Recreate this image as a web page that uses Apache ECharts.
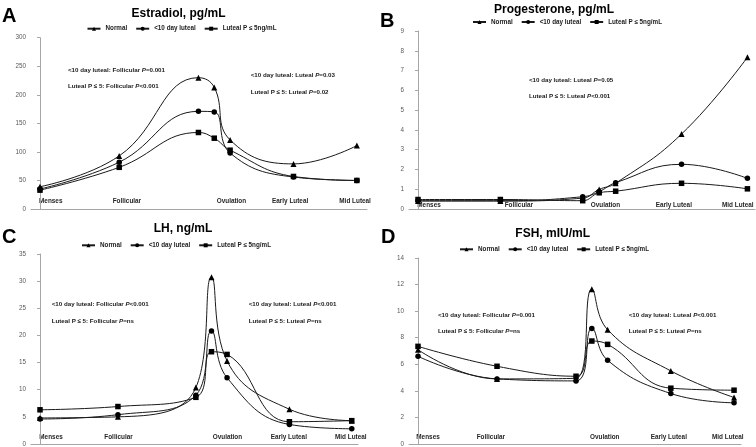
<!DOCTYPE html>
<html>
<head>
<meta charset="utf-8">
<script src="https://cdn.jsdelivr.net/npm/echarts@6/dist/echarts.min.js"></script>
<style>html,body{margin:0;padding:0;background:#fff}#c{width:756px;height:447px}</style>
</head>
<body>
<div id="c"></div>
<script>
// ---- data ----
const seriesNames = ['Normal', '<10 day luteal', 'Luteal P \u2264 5ng/mL'];
const stageLabels = ['Menses', 'Follicular', 'Ovulation', 'Early Luteal', 'Mid Luteal'];
// relative position in cycle of each measurement
const cyclePos = [0, 25, 50, 55, 60, 80, 100];

const e2Normal = [39, 93, 230, 213, 121, 79, 111];
const e2Short  = [35, 82, 171, 170, 98, 56, 50];
const e2LowP   = [33, 73, 134, 124, 103, 57, 50];

const pNormal = [0.40, 0.40, 0.55, 0.99, 1.30, 3.79, 7.67];
const pShort  = [0.42, 0.42, 0.62, 0.88, 1.33, 2.26, 1.55];
const pLowP   = [0.48, 0.48, 0.42, 0.82, 0.90, 1.30, 1.02];

const lhNormal = [4.8, 5.0, 10.4, 30.7, 15.3, 6.4, 4.3];
const lhShort  = [4.6, 5.4, 9.0, 20.8, 12.2, 3.6, 2.8];
const lhLowP   = [6.3, 6.9, 8.6, 17.0, 16.5, 4.1, 4.3];

const fshNormal = [7.1, 4.9, 4.95, 11.65, 8.6, 5.5, 3.5];
const fshShort  = [6.6, 4.9, 4.75, 8.7, 6.3, 3.8, 3.1];
const fshLowP   = [7.35, 5.85, 5.1, 7.75, 7.5, 4.2, 4.05];

// ---- layout ----
const FONT = "'Liberation Sans', Arial, sans-serif";
const panels = [
  { letter: 'A', title: 'Estradiol, pg/mL', data: [e2Normal, e2Short, e2LowP], yMax: 300, yInt: 50,
    grid: { left: 31, top: 37.7, width: 336, height: 171.3 }, xMin: -2.84, xMax: 103.2,
    letterPos: [2, 6], titlePos: [178.5, 14], legendCenter: [178.5, 30.7],
    stageY: 201.7, stageX: [39, 112.7, 216.7, 272, 339.3],
    notes: [
      { x: 68, y: 70, lines: [['<10 day luteal: Follicular ', '=0.001'], ['Luteal P \u2264 5: Follicular ', '<0.001']] },
      { x: 250.7, y: 75.3, lines: [['<10 day luteal: Luteal ', '=0.03'], ['Luteal P \u2264 5: Luteal ', '=0.02']] }
    ] },
  { letter: 'B', title: 'Progesterone, pg/mL', data: [pNormal, pShort, pLowP], yMax: 9, yInt: 1,
    grid: { left: 409, top: 31, width: 346, height: 178 }, xMin: -2.73, xMax: 102.3,
    letterPos: [380, 11], titlePos: [554, 10], legendCenter: [564, 24],
    stageY: 205, stageX: [417.3, 504.7, 590.7, 655.7, 722],
    notes: [
      { x: 529, y: 80, lines: [['<10 day luteal: Luteal ', '=0.05'], ['Luteal P \u2264 5: Luteal ', '<0.001']] }
    ] },
  { letter: 'C', title: 'LH, ng/mL', data: [lhNormal, lhShort, lhLowP], yMax: 35, yInt: 5,
    grid: { left: 31, top: 254, width: 327, height: 190 }, xMin: -2.89, xMax: 102,
    letterPos: [2, 227], titlePos: [183, 229], legendCenter: [173, 247.3],
    stageY: 437.3, stageX: [39.3, 104.3, 212.7, 270.7, 335],
    notes: [
      { x: 51.7, y: 304.7, lines: [['<10 day luteal: Follicular ', '<0.001'], ['Luteal P \u2264 5: Follicular ', '=ns']] },
      { x: 248.7, y: 304.7, lines: [['<10 day luteal: Luteal ', '<0.001'], ['Luteal P \u2264 5: Luteal ', '=ns']] }
    ] },
  { letter: 'D', title: 'FSH, mIU/mL', data: [fshNormal, fshShort, fshLowP], yMax: 14, yInt: 2,
    grid: { left: 409, top: 258, width: 332, height: 186 }, xMin: -2.85, xMax: 102.2,
    letterPos: [381, 227], titlePos: [552.7, 234], legendCenter: [551, 251.3],
    stageY: 437.3, stageX: [416.3, 476.7, 590, 650.7, 712],
    notes: [
      { x: 438, y: 315, lines: [['<10 day luteal: Follicular ', '=0.001'], ['Luteal P \u2264 5: Follicular ', '=ns']] },
      { x: 628.7, y: 315, lines: [['<10 day luteal: Luteal ', '<0.001'], ['Luteal P \u2264 5: Luteal ', '=ns']] }
    ] }
];

const symbols = ['triangle', 'circle', 'rect'];
const symSizes = [6, 5.5, 5.5];
const LEGEND_W = 184;

const option = {
  animation: false,
  backgroundColor: '#fff',
  textStyle: { fontFamily: FONT },
  grid: [], xAxis: [], yAxis: [], series: [], legend: [], graphic: []
};

panels.forEach((p, i) => {
  option.grid.push(Object.assign({ containLabel: false }, p.grid));
  option.xAxis.push({
    type: 'value', gridIndex: i, min: p.xMin, max: p.xMax,
    axisLine: { show: true, onZero: false, lineStyle: { color: '#a6a6a6', width: 1 } },
    axisTick: { show: false }, axisLabel: { show: false }, splitLine: { show: false }
  });
  option.yAxis.push({
    type: 'value', gridIndex: i, min: 0, max: p.yMax, interval: p.yInt,
    axisLine: { show: true, lineStyle: { color: '#a6a6a6', width: 1 } },
    axisTick: { show: true, length: 3, lineStyle: { color: '#a6a6a6' } },
    axisLabel: { color: '#595959', fontSize: 6.3, margin: 5, fontFamily: FONT },
    splitLine: { show: false }
  });
  p.data.forEach((vals, k) => {
    option.series.push({
      type: 'line', name: seriesNames[k], xAxisIndex: i, yAxisIndex: i,
      data: vals.map((v, j) => [cyclePos[j], v]),
      smooth: 0.45,
      symbol: symbols[k], symbolSize: symSizes[k], showSymbol: true,
      lineStyle: { color: '#1a1a1a', width: 1 },
      itemStyle: { color: '#000' },
      z: 3 + k
    });
  });
  option.legend.push({
    data: seriesNames,
    left: p.legendCenter[0] - LEGEND_W / 2, top: p.legendCenter[1] - 5,
    itemWidth: 13, itemHeight: 5, itemGap: 8, padding: 0,
    textStyle: { fontSize: 6.3, color: '#1a1a1a', fontFamily: FONT, fontWeight: 'bold' },
    inactiveColor: '#000'
  });
  option.graphic.push({
    type: 'text', left: p.letterPos[0], top: p.letterPos[1],
    style: { text: p.letter, font: 'bold 20px ' + FONT, fill: '#000' }
  });
  option.graphic.push({
    type: 'text', x: p.titlePos[0], y: p.titlePos[1],
    style: { text: p.title, font: 'bold 12px ' + FONT, fill: '#000', textAlign: 'center', textVerticalAlign: 'middle' }
  });
  stageLabels.forEach((s, j) => {
    option.graphic.push({
      type: 'text', x: p.stageX[j], y: p.stageY,
      style: { text: s, font: 'bold 6.4px ' + FONT, fill: '#262626', textAlign: 'left', textVerticalAlign: 'middle' }
    });
  });
  p.notes.forEach(n => {
    n.lines.forEach((ln, li) => {
      option.graphic.push({
        type: 'text', x: n.x, y: n.y + li * 16.5,
        style: {
          text: '{a|' + ln[0] + '}{i|P}{a|' + ln[1] + '}',
          textVerticalAlign: 'middle',
          rich: {
            a: { font: 'bold 6.2px ' + FONT, fill: '#1a1a1a' },
            i: { font: 'italic bold 6.2px ' + FONT, fill: '#1a1a1a' }
          }
        }
      });
    });
  });
});

const chart = echarts.init(document.getElementById('c'), null, { renderer: 'canvas' });
chart.setOption(option);
</script>
</body>
</html>
